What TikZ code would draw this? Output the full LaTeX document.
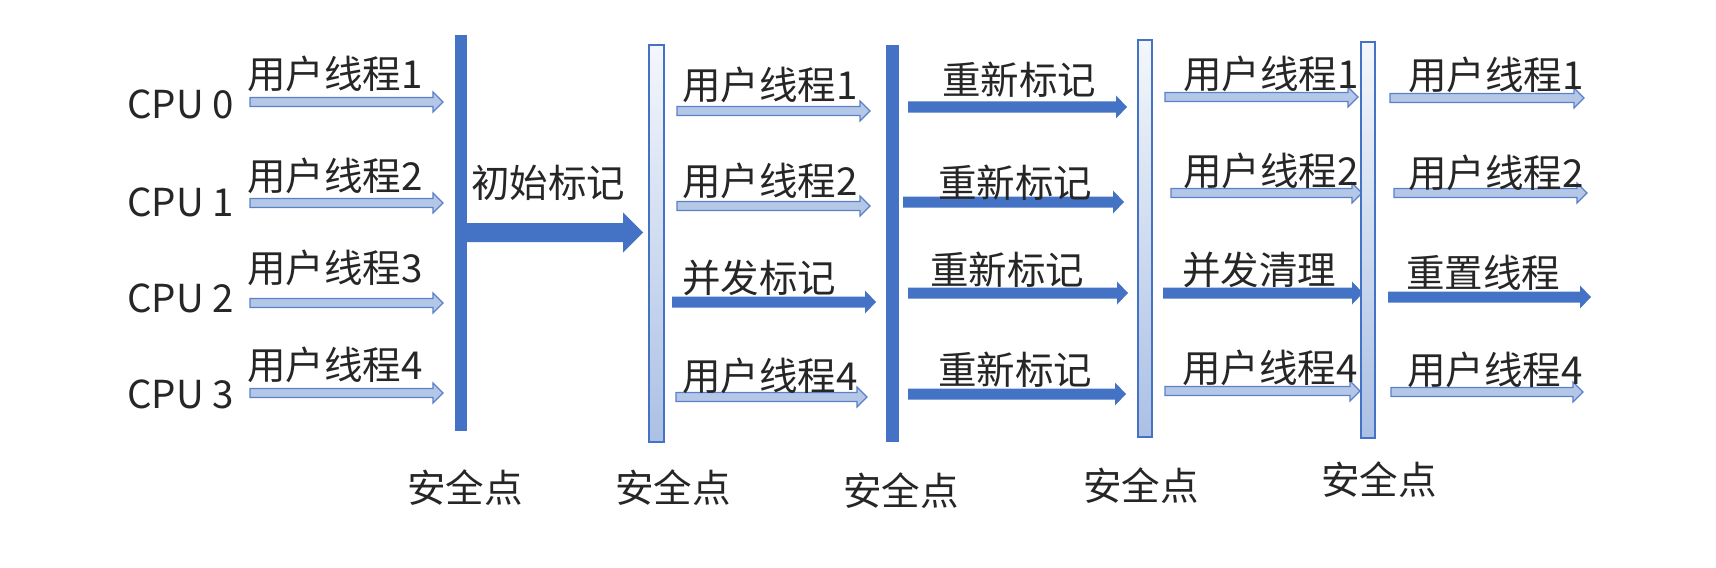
\documentclass[tikz,border=0pt]{standalone}
\usepackage{fontspec}
\newfontfamily\cjk{Noto Sans CJK SC}
\definecolor{bblue}{HTML}{4472C4}
\definecolor{lblue}{HTML}{B4C7E7}
\definecolor{oblue}{HTML}{5B80C8}
\definecolor{txt}{HTML}{262626}
\tikzset{
  lbl/.style={font=\cjk\fontsize{19.25pt}{23pt}\selectfont, inner sep=0pt, text=txt},
  solidarr/.style={fill=bblue},
  hollowarr/.style={fill=lblue, draw=oblue, line width=0.6pt, line join=miter},
  solidbar/.style={fill=bblue},
  lightbar/.style={top color=bblue!6, bottom color=lblue!92!bblue, draw=bblue, line width=0.7pt},
}
% #1 style, #2 x start, #3 x tip, #4 y, #5 shaft half, #6 head half, #7 head length
\newcommand\blkarrow[7]{%
  \path[#1] ({#2},{#4-#5}) -- ({#3-#7},{#4-#5}) -- ({#3-#7},{#4-#6}) -- ({#3},{#4})
    -- ({#3-#7},{#4+#6}) -- ({#3-#7},{#4+#5}) -- ({#2},{#4+#5}) -- cycle;}
\newcommand\harr[3]{\blkarrow{hollowarr}{#1}{#2}{#3}{4.5}{10}{10}}
\newcommand\sarr[3]{\blkarrow{solidarr}{#1}{#2}{#3}{5.5}{11.5}{11}}
\begin{document}
\begin{tikzpicture}[x=0.5pt,y=-0.5pt]
\useasboundingbox (0,0) rectangle (1716,567);
\fill[white] (0,0) rectangle (1716,567);

% column 1 arrows
\harr{250}{443}{102}
\harr{250}{443}{203}
\harr{250}{443}{303}
\harr{250}{443}{393}
% big arrow
\blkarrow{solidarr}{465}{643}{232.5}{9.5}{20}{20}
% column 2
\harr{677}{870}{111}
\harr{677}{870}{206}
\sarr{672}{876}{302}
\harr{676}{867}{397}
% column 3
\sarr{908}{1127}{107}
\sarr{903}{1124}{202}
\sarr{908}{1128}{293}
\sarr{908}{1126}{394}
% column 4
\harr{1165}{1358}{97}
\harr{1171}{1362}{193}
\sarr{1163}{1363}{293}
\harr{1165}{1360}{391}
% column 5
\harr{1390}{1584}{98}
\harr{1394}{1587}{193}
\sarr{1388}{1591}{297}
\harr{1391}{1583}{392}

% safe-point bars
\path[solidbar] (455,35) rectangle (467,431);
\path[lightbar] (649,45) rectangle (664,442);
\path[solidbar] (886,45) rectangle (899,442);
\path[lightbar] (1138,40) rectangle (1152,437);
\path[lightbar] (1361,42) rectangle (1375,438);

% CPU labels
\node[lbl, anchor=base west] (cpu0) at (127,119) {CPU 0};
\node[lbl, anchor=base west] (cpu1) at (127,216) {CPU 1};
\node[lbl, anchor=base west] (cpu2) at (127,312) {CPU 2};
\node[lbl, anchor=base west] (cpu3) at (127,408) {CPU 3};

% column 1 labels
\node[lbl, anchor=base west] (a0) at (247,89) {用户线程1};
\node[lbl, anchor=base west] (a1) at (247,190) {用户线程2};
\node[lbl, anchor=base west] (a2) at (247,282) {用户线程3};
\node[lbl, anchor=base west] (a3) at (247,379) {用户线程4};
\node[lbl, anchor=base west] (init) at (471,197) {初始标记};

% column 2 labels
\node[lbl, anchor=base west] (b0) at (682,99) {用户线程1};
\node[lbl, anchor=base west] (b1) at (682,195) {用户线程2};
\node[lbl, anchor=base west] (b2) at (682,292) {并发标记};
\node[lbl, anchor=base west] (b3) at (682,390) {用户线程4};

% column 3 labels
\node[lbl, anchor=base west] (c0) at (942,95) {重新标记};
\node[lbl, anchor=base west] (c1) at (938,197) {重新标记};
\node[lbl, anchor=base west] (c2) at (930,284) {重新标记};
\node[lbl, anchor=base west] (c3) at (938,384) {重新标记};

% column 4 labels
\node[lbl, anchor=base west] (d0) at (1183,89) {用户线程1};
\node[lbl, anchor=base west] (d1) at (1183,185) {用户线程2};
\node[lbl, anchor=base west] (d2) at (1182,284) {并发清理};
\node[lbl, anchor=base west] (d3) at (1182,382) {用户线程4};

% column 5 labels
\node[lbl, anchor=base west] (e0) at (1408,90) {用户线程1};
\node[lbl, anchor=base west] (e1) at (1408,187) {用户线程2};
\node[lbl, anchor=base west] (e2) at (1406,287) {重置线程};
\node[lbl, anchor=base west] (e3) at (1407,384) {用户线程4};

% safe point labels
\node[lbl, anchor=base] (s1) at (465,502) {安全点};
\node[lbl, anchor=base] (s2) at (673,502) {安全点};
\node[lbl, anchor=base] (s3) at (901,505) {安全点};
\node[lbl, anchor=base] (s4) at (1141,500) {安全点};
\node[lbl, anchor=base] (s5) at (1379,494) {安全点};
\end{tikzpicture}
\end{document}
